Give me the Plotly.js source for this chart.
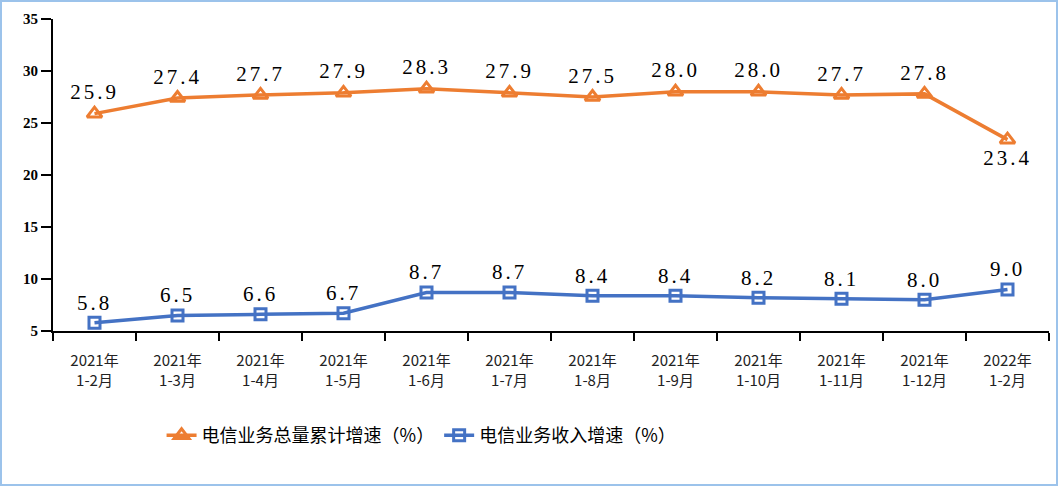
<!DOCTYPE html>
<html><head><meta charset="utf-8">
<script src="https://cdn.plot.ly/plotly-3.0.1.min.js"></script>
<style>
html,body{margin:0;padding:0;background:#fff;}
#chart{width:1058px;height:486px;}
#frame{position:absolute;left:0;top:0;width:1058px;height:486px;box-sizing:border-box;border:2px solid #9cc3eb;pointer-events:none;}
#chart .textpoint text{letter-spacing:3px;}
</style></head>
<body>
<div id="chart"></div><div id="frame"></div>
<script>
const categories = ["2021年<br>1-2月","2021年<br>1-3月","2021年<br>1-4月","2021年<br>1-5月","2021年<br>1-6月","2021年<br>1-7月","2021年<br>1-8月","2021年<br>1-9月","2021年<br>1-10月","2021年<br>1-11月","2021年<br>1-12月","2022年<br>1-2月"];
const totalGrowth = [25.9, 27.4, 27.7, 27.9, 28.3, 27.9, 27.5, 28.0, 28.0, 27.7, 27.8, 23.4];
const revenueGrowth = [5.8, 6.5, 6.6, 6.7, 8.7, 8.7, 8.4, 8.4, 8.2, 8.1, 8.0, 9.0];
const seriesNames = ["电信业务总量累计增速（%）", "电信业务收入增速（%）"];

const labelFont = {family: "Liberation Serif, serif", size: 21, color: "#000"};
const totalPos = totalGrowth.map((v, i) => i === totalGrowth.length - 1 ? "bottom center" : "top center");

const traces = [
  {
    x: categories, y: totalGrowth, name: seriesNames[0], type: "scatter", mode: "lines+markers+text",
    text: totalGrowth.map(v => v.toFixed(1)), textposition: totalPos, textfont: labelFont,
    line: {color: "#ed7d31", width: 3.5},
    marker: {symbol: "triangle-up-open", size: 13, color: "#ed7d31", line: {width: 3, color: "#ed7d31"}},
    cliponaxis: false, hoverinfo: "skip"
  },
  {
    x: categories, y: revenueGrowth, name: seriesNames[1], type: "scatter", mode: "lines+markers+text",
    text: revenueGrowth.map(v => v.toFixed(1)), textposition: "top center", textfont: labelFont,
    line: {color: "#4472c4", width: 3.5},
    marker: {symbol: "square-open", size: 11, color: "#4472c4", line: {width: 3, color: "#4472c4"}},
    cliponaxis: false, hoverinfo: "skip"
  }
];

const layout = {
  width: 1058, height: 486,
  margin: {l: 53, r: 9, t: 19, b: 155},
  paper_bgcolor: "#fff", plot_bgcolor: "#fff",
  showlegend: true,
  legend: {orientation: "h", x: 0.109, xanchor: "left", y: -0.335, yanchor: "middle",
           font: {family: "Noto Sans CJK SC, sans-serif", size: 18, color: "#000"},
           itemwidth: 30, tracegroupgap: 0},
  xaxis: {
    type: "category", range: [-0.5, 11.5], tickson: "boundaries",
    showline: true, linecolor: "#000", linewidth: 2, ticks: "outside", ticklen: 8, tickcolor: "#000", tickwidth: 1.5,
    showgrid: false, zeroline: false, ticklabelstandoff: 15,
    tickfont: {family: "Noto Sans CJK SC, sans-serif", size: 15, color: "#222"}
  },
  yaxis: {
    range: [5, 35], dtick: 5, tick0: 5,
    showline: true, linecolor: "#000", linewidth: 2, ticks: "outside", ticklen: 10, tickcolor: "#000", tickwidth: 1.5,
    showgrid: false, zeroline: false,
    tickfont: {family: "Liberation Serif, serif", size: 15, color: "#000", weight: "bold"}
  }
};

Plotly.newPlot("chart", traces, layout, {staticPlot: true, displayModeBar: false});
</script>
</body></html>
